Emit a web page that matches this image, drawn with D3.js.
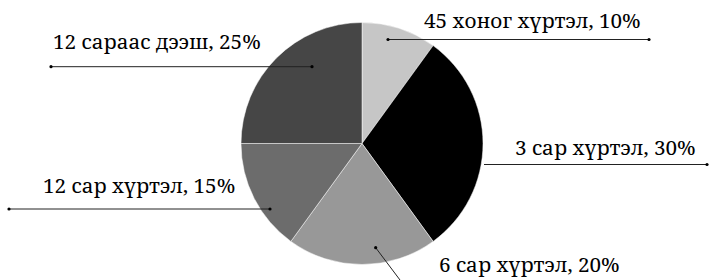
<!DOCTYPE html>
<html>
<head>
<meta charset="utf-8">
<script src="https://cdn.jsdelivr.net/npm/d3@7"></script>
<style>
  html, body { margin: 0; padding: 0; background: #fff; }
  svg { display: block; }
</style>
</head>
<body>
<svg id="chart" width="712" height="280"></svg>
<script>
// Data
const categories = ["45 хоног хүртэл", "3 сар хүртэл", "6 сар хүртэл", "12 сар хүртэл", "12 сараас дээш"];
const shares = [10, 30, 20, 15, 25];
const sliceColors = ["#c6c6c6", "#000000", "#989898", "#6c6c6c", "#464646"];

// Label layout (annotation placement): text position and leader line endpoints
const labelLayout = [
  { tx: 424, ty: 28,  line: [[388, 39.5], [649, 39.5]], dots: [0, 1] },
  { tx: 515, ty: 155, line: [[484, 164.5], [707, 164.5]], dots: [1] },
  { tx: 439, ty: 272, line: [[375.7, 247.7], [400, 280]], dots: [0] },
  { tx: 43,  ty: 193, line: [[9, 209], [270, 209]], dots: [0, 1] },
  { tx: 53,  ty: 49,  line: [[51, 66.7], [312, 66.7]], dots: [0, 1] }
];

const svg = d3.select("#chart");
const cx = 362, cy = 143.5, radius = 121;

const pie = d3.pie().sort(null).value(d => d)(shares);
const arc = d3.arc().innerRadius(0).outerRadius(radius);

const g = svg.append("g").attr("transform", `translate(${cx},${cy})`);
g.selectAll("path")
  .data(pie)
  .join("path")
  .attr("d", arc)
  .attr("fill", (d, i) => sliceColors[i])
  .attr("stroke", "#ffffff")
  .attr("stroke-width", 0.5);

const labels = svg.append("g");
categories.forEach((c, i) => {
  const L = labelLayout[i];
  labels.append("line")
    .attr("x1", L.line[0][0]).attr("y1", L.line[0][1])
    .attr("x2", L.line[1][0]).attr("y2", L.line[1][1])
    .attr("stroke", "#222").attr("stroke-width", 1);
  L.dots.forEach(k => {
    labels.append("circle")
      .attr("cx", L.line[k][0]).attr("cy", L.line[k][1])
      .attr("r", 1.6).attr("fill", "#000");
  });
  labels.append("text")
    .attr("x", L.tx).attr("y", L.ty)
    .attr("font-family", "'Noto Serif', 'DejaVu Serif', serif")
    .attr("font-size", 20.7)
    .attr("fill", "#000")
    .text(`${c}, ${shares[i]}%`);
});
</script>
</body>
</html>
